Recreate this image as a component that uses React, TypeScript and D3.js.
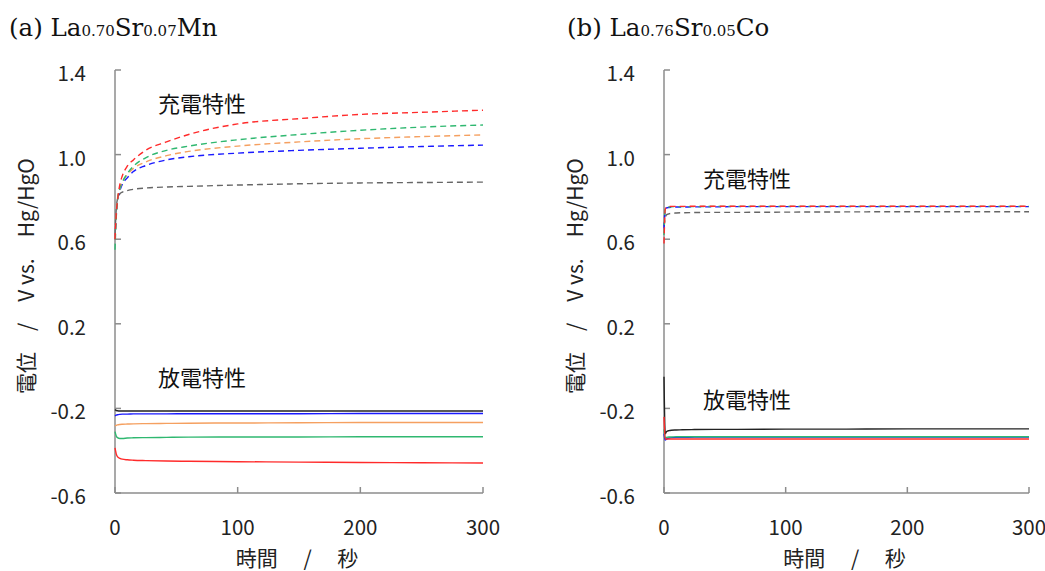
import React from 'react';
import * as d3 from 'd3';

// time axis (s) shared by every series
const times = [0, 1, 2, 4, 6, 10, 15, 25, 42, 60, 100, 150, 200, 250, 300];

// (a) La0.70Sr0.07Mn
const aChargeRed = [0.6, 0.72, 0.78, 0.86, 0.9, 0.945, 0.975, 1.02, 1.06, 1.095, 1.145, 1.17, 1.19, 1.2, 1.21];
const aChargeGreen = [0.55, 0.7, 0.78, 0.84, 0.87, 0.91, 0.945, 0.985, 1.02, 1.04, 1.07, 1.095, 1.115, 1.13, 1.14];
const aChargeOrange = [0.6, 0.72, 0.79, 0.84, 0.87, 0.905, 0.935, 0.965, 0.995, 1.015, 1.04, 1.06, 1.075, 1.085, 1.093];
const aChargeBlue = [0.6, 0.71, 0.78, 0.83, 0.86, 0.89, 0.92, 0.948, 0.975, 0.99, 1.007, 1.02, 1.03, 1.038, 1.045];
const aChargeBlack = [0.62, 0.74, 0.79, 0.815, 0.823, 0.83, 0.836, 0.842, 0.847, 0.85, 0.856, 0.862, 0.866, 0.868, 0.87];
const aDischBlack = [-0.205, -0.21, -0.211, -0.212, -0.212, -0.212, -0.212, -0.212, -0.212, -0.212, -0.212, -0.212, -0.212, -0.212, -0.212];
const aDischBlue = [-0.235, -0.232, -0.23, -0.228, -0.227, -0.227, -0.226, -0.226, -0.226, -0.225, -0.225, -0.225, -0.224, -0.224, -0.224];
const aDischOrange = [-0.283, -0.28, -0.278, -0.276, -0.275, -0.274, -0.273, -0.272, -0.271, -0.27, -0.269, -0.268, -0.267, -0.267, -0.267];
const aDischGreen = [-0.31, -0.33, -0.338, -0.342, -0.342, -0.34, -0.339, -0.338, -0.337, -0.336, -0.335, -0.335, -0.334, -0.334, -0.334];
const aDischRed = [-0.387, -0.415, -0.428, -0.436, -0.44, -0.443, -0.445, -0.447, -0.449, -0.45, -0.452, -0.454, -0.456, -0.457, -0.458];

// (b) La0.76Sr0.05Co
const bChargeGray = [0.66, 0.7, 0.715, 0.72, 0.722, 0.724, 0.725, 0.726, 0.727, 0.727, 0.728, 0.729, 0.73, 0.73, 0.73];
const bChargeBlue = [0.65, 0.74, 0.748, 0.75, 0.751, 0.752, 0.752, 0.753, 0.753, 0.754, 0.754, 0.754, 0.754, 0.754, 0.754];
const bChargeGreen = [0.62, 0.745, 0.75, 0.752, 0.753, 0.754, 0.754, 0.754, 0.755, 0.755, 0.755, 0.755, 0.755, 0.755, 0.755];
const bChargeRed = [0.58, 0.74, 0.752, 0.754, 0.755, 0.755, 0.755, 0.756, 0.756, 0.756, 0.756, 0.756, 0.756, 0.756, 0.756];
const bDischBlack = [-0.05, -0.32, -0.31, -0.305, -0.303, -0.302, -0.301, -0.3, -0.299, -0.299, -0.298, -0.298, -0.297, -0.297, -0.297];
const bDischBlue = [-0.32, -0.35, -0.345, -0.34, -0.338, -0.337, -0.337, -0.336, -0.336, -0.336, -0.336, -0.336, -0.336, -0.336, -0.336];
const bDischGreen = [-0.3, -0.34, -0.337, -0.335, -0.335, -0.334, -0.334, -0.334, -0.334, -0.334, -0.334, -0.334, -0.334, -0.334, -0.334];
const bDischRed = [-0.24, -0.345, -0.345, -0.345, -0.345, -0.345, -0.345, -0.345, -0.345, -0.345, -0.345, -0.345, -0.345, -0.345, -0.345];

const yTicks = [1.4, 1.0, 0.6, 0.2, -0.2, -0.6];
const xTicks = [0, 100, 200, 300];

const RED = '#ff2a2a';
const GREEN = '#2fb870';
const ORANGE = '#f5a060';
const BLUE = '#1a1aff';
const BLACK = '#222';
const GRAY = '#666';

type Series = { values: number[]; color: string; dashed: boolean };

const panels = [
  {
    tag: '(a) ', el1: 'La', sub1: '0.70', el2: 'Sr', sub2: '0.07', el3: 'Mn',
    left: 115, right: 483, titleX: 9,
    chargeLabel: [35, 1.25], dischLabel: [35, -0.047],
    series: [
      { values: aChargeBlack, color: GRAY, dashed: true },
      { values: aChargeBlue, color: BLUE, dashed: true },
      { values: aChargeOrange, color: ORANGE, dashed: true },
      { values: aChargeGreen, color: GREEN, dashed: true },
      { values: aChargeRed, color: RED, dashed: true },
      { values: aDischBlack, color: BLACK, dashed: false },
      { values: aDischBlue, color: BLUE, dashed: false },
      { values: aDischOrange, color: ORANGE, dashed: false },
      { values: aDischGreen, color: GREEN, dashed: false },
      { values: aDischRed, color: RED, dashed: false },
    ] as Series[],
  },
  {
    tag: '(b) ', el1: 'La', sub1: '0.76', el2: 'Sr', sub2: '0.05', el3: 'Co',
    left: 664, right: 1029, titleX: 567,
    chargeLabel: [32, 0.894], dischLabel: [32, -0.151],
    series: [
      { values: bChargeGray, color: GRAY, dashed: true },
      { values: bChargeBlue, color: BLUE, dashed: true },
      { values: bChargeGreen, color: GREEN, dashed: true },
      { values: bChargeRed, color: RED, dashed: true },
      { values: bDischBlack, color: BLACK, dashed: false },
      { values: bDischBlue, color: BLUE, dashed: false },
      { values: bDischGreen, color: GREEN, dashed: false },
      { values: bDischRed, color: RED, dashed: false },
    ] as Series[],
  },
];

const SANS = '"Noto Sans CJK JP", "Noto Sans", sans-serif';
const SERIF = '"DejaVu Serif", serif';
const AXIS = '#8c8c8c';

const y = d3.scaleLinear().domain([-0.6, 1.4]).range([493, 70]);

const Panel = ({ p }: { p: typeof panels[number] }) => {
  const x = d3.scaleLinear().domain([0, 300]).range([p.left, p.right]);
  const line = d3.line<number>()
    .x((_, i) => x(times[i]))
    .y(d => y(d))
    .curve(d3.curveMonotoneX);
  const midX = (p.left + p.right) / 2;

  return (
    <g>
      <text x={p.titleX} y={36} fontFamily={SERIF} fontSize={24.5} fill="#111">
        {p.tag}{p.el1}
        <tspan fontSize={15}>{p.sub1}</tspan>
        {p.el2}
        <tspan fontSize={15}>{p.sub2}</tspan>
        {p.el3}
      </text>

      {/* axes */}
      <line x1={p.left} x2={p.left} y1={y(1.4)} y2={y(-0.6)} stroke={AXIS} strokeWidth={1.5} />
      <line x1={p.left} x2={p.right} y1={y(-0.6)} y2={y(-0.6)} stroke={AXIS} strokeWidth={1.5} />
      {yTicks.map(t => (
        <g key={t}>
          <line x1={p.left} x2={p.left + 6} y1={y(t)} y2={y(t)} stroke={AXIS} strokeWidth={1.5} />
          <text x={p.left - 29} y={y(t) + 2} textAnchor="end" dominantBaseline="central"
            fontFamily={SANS} fontSize={20.5} fill="#222">{t.toFixed(1)}</text>
        </g>
      ))}
      {xTicks.map(t => (
        <g key={t}>
          <line x1={x(t)} x2={x(t)} y1={y(-0.6)} y2={y(-0.6) - 6} stroke={AXIS} strokeWidth={1.5} />
          <text x={x(t)} y={526} textAnchor="middle" dominantBaseline="central"
            fontFamily={SANS} fontSize={20.5} fill="#222">{t}</text>
        </g>
      ))}
      <text x={midX - 2} y={557} textAnchor="middle" dominantBaseline="central"
        fontFamily={SANS} fontSize={21} fill="#222" style={{ whiteSpace: 'pre' }}>
        {'時間　 /　 秒'}
      </text>
      <text transform={`translate(${p.left - 90},276) rotate(-90)`} textAnchor="middle"
        dominantBaseline="central" fontFamily={SANS} fontSize={21} fill="#222"
        style={{ whiteSpace: 'pre' }}>
        {'電位　/　V vs.　Hg/HgO'}
      </text>

      {/* series */}
      {p.series.map((s, i) => (
        <path key={i} d={line(s.values) ?? ''} fill="none" stroke={s.color}
          strokeWidth={1.4} strokeDasharray={s.dashed ? '6,4' : undefined} />
      ))}

      <text x={x(p.chargeLabel[0])} y={y(p.chargeLabel[1])} dominantBaseline="central"
        fontFamily={SANS} fontSize={22} fill="#111">充電特性</text>
      <text x={x(p.dischLabel[0])} y={y(p.dischLabel[1])} dominantBaseline="central"
        fontFamily={SANS} fontSize={22} fill="#111">放電特性</text>
    </g>
  );
};

export default function App() {
  return (
    <svg width={1045} height={571} style={{ position: 'absolute', left: 0, top: 0, background: '#fff' }}>
      {panels.map((p, i) => <Panel key={i} p={p} />)}
    </svg>
  );
}
